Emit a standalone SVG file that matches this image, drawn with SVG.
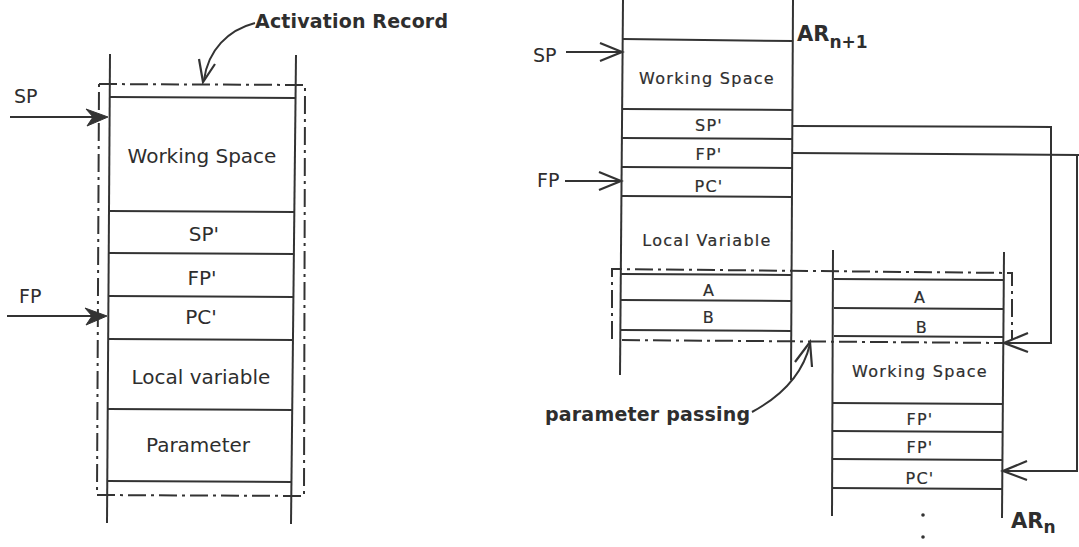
<svg xmlns="http://www.w3.org/2000/svg" width="1079" height="547" viewBox="0 0 1079 547">
<defs>
<style>
.ln{stroke:#333;stroke-width:2;fill:none}
.dd{stroke:#333;stroke-width:2;fill:none;stroke-dasharray:18 5 3 5}
.head{fill:#333;stroke:#333;stroke-width:1;stroke-linejoin:miter}
.vh{fill:none;stroke:#333;stroke-width:2.2}
.tL{font-family:"DejaVu Sans","Verdana",sans-serif;font-size:20px;fill:#2e2e2e;text-anchor:middle}
.tR{font-family:"DejaVu Sans","Verdana",sans-serif;font-size:16px;fill:#2e2e2e;text-anchor:middle;letter-spacing:1.3px;stroke:#2e2e2e;stroke-width:0.2}
.ptr{font-family:"DejaVu Sans","Verdana",sans-serif;font-size:19px;fill:#2e2e2e}
.bold{font-family:"DejaVu Sans","Verdana",sans-serif;font-weight:bold;fill:#2e2e2e}
</style>
</defs>
<rect width="1079" height="547" fill="#ffffff"/>

<!-- Left activation record -->
<g id="left-stack">
<line class="ln" x1="110" y1="54" x2="107" y2="523"/>
<line class="ln" x1="296" y1="55" x2="291" y2="524"/>
<line class="ln" x1="110" y1="97" x2="295" y2="98"/>
<line class="ln" x1="109" y1="211" x2="294" y2="212"/>
<line class="ln" x1="109" y1="253" x2="294" y2="254"/>
<line class="ln" x1="108" y1="296" x2="293" y2="297"/>
<line class="ln" x1="108" y1="339" x2="293" y2="340"/>
<line class="ln" x1="108" y1="409" x2="293" y2="410"/>
<line class="ln" x1="107" y1="481" x2="292" y2="482"/>
<path class="dd" d="M99,84 L305,85 L304,496 L97,495 Z"/>
<text class="tL" x="202" y="163">Working Space</text>
<text class="tL" x="204" y="241">SP'</text>
<text class="tL" x="202" y="285">FP'</text>
<text class="tL" x="201" y="324">PC'</text>
<text class="tL" x="201" y="384">Local variable</text>
<text class="tL" x="198" y="452">Parameter</text>
</g>

<g id="left-labels">
<text class="ptr" x="14" y="103">SP</text>
<text class="ptr" x="19" y="303">FP</text>
<text class="bold" x="255" y="28" font-size="19" textLength="193" lengthAdjust="spacing">Activation Record</text>
</g>

<!-- Right: AR n+1 -->
<g id="ar-n-plus-1">
<line class="ln" x1="623" y1="0" x2="620" y2="375"/>
<line class="ln" x1="793" y1="0" x2="791" y2="380"/>
<line class="ln" x1="623" y1="39" x2="793" y2="41"/>
<line class="ln" x1="623" y1="109" x2="793" y2="110"/>
<line class="ln" x1="622" y1="138" x2="792" y2="139"/>
<line class="ln" x1="622" y1="167" x2="792" y2="168"/>
<line class="ln" x1="622" y1="196" x2="792" y2="197"/>
<line class="ln" x1="621" y1="274" x2="791" y2="275"/>
<line class="ln" x1="621" y1="300" x2="791" y2="301"/>
<line class="ln" x1="621" y1="330" x2="791" y2="331"/>
<text class="tR" x="707" y="84">Working Space</text>
<text class="tR" x="709" y="131">SP'</text>
<text class="tR" x="709" y="160">FP'</text>
<text class="tR" x="709" y="192">PC'</text>
<text class="tR" x="707" y="246">Local Variable</text>
<text class="tR" x="709" y="296">A</text>
<text class="tR" x="709" y="323">B</text>
<text class="bold" x="797" y="41" font-size="21">AR<tspan font-size="17" dy="7">n+1</tspan></text>
</g>

<!-- Right: AR n -->
<g id="ar-n">
<line class="ln" x1="833" y1="250" x2="832" y2="516"/>
<line class="ln" x1="1004" y1="252" x2="1002" y2="518"/>
<line class="ln" x1="834" y1="279" x2="1003" y2="280"/>
<line class="ln" x1="834" y1="308" x2="1003" y2="309"/>
<line class="ln" x1="834" y1="336" x2="1003" y2="337"/>
<line class="ln" x1="833" y1="403" x2="1002" y2="404"/>
<line class="ln" x1="833" y1="431" x2="1002" y2="432"/>
<line class="ln" x1="833" y1="459" x2="1002" y2="460"/>
<line class="ln" x1="832" y1="488" x2="1002" y2="489"/>
<text class="tR" x="920" y="303">A</text>
<text class="tR" x="922" y="333">B</text>
<text class="tR" x="920" y="377">Working Space</text>
<text class="tR" x="920" y="425">FP'</text>
<text class="tR" x="920" y="453">FP'</text>
<text class="tR" x="920" y="484">PC'</text>
<circle cx="923" cy="515" r="1.8" fill="#333"/>
<circle cx="923" cy="537" r="1.8" fill="#333"/>
<text class="bold" x="1011" y="528" font-size="21">AR<tspan font-size="17" dy="5">n</tspan></text>
</g>

<g id="parameter-box">
<path class="dd" d="M612,339 L612,269 L1012,273 L1012,340"/>
<path class="dd" d="M622,340 L1004,343"/>
</g>

<g id="right-labels">
<text class="ptr" x="533" y="62">SP</text>
<text class="ptr" x="537" y="187">FP</text>
<text class="bold" x="545" y="421" font-size="19" textLength="205" lengthAdjust="spacing">parameter passing</text>
</g>

<!-- Connectors -->
<g id="connectors">
<line class="ln" x1="10" y1="117" x2="104" y2="117"/>
<path class="head" d="M108,117 L86,109 L93,117 L87,126 Z"/>
<line class="ln" x1="7" y1="316" x2="103" y2="316"/>
<path class="head" d="M107,316 L85,308 L92,316 L86,325 Z"/>
<path class="ln" d="M255,23 C228,30 208,50 204,80"/>
<path class="vh" d="M199,59 L203,82 L215,64"/>
<line class="ln" x1="566" y1="52" x2="621" y2="52"/>
<path class="vh" d="M600,43 L622,52 L600,61"/>
<line class="ln" x1="565" y1="181" x2="620" y2="181"/>
<path class="vh" d="M599,172 L621,181 L599,190"/>
<polyline class="ln" points="793,126 1051,127 1051,343 1006,343"/>
<path class="vh" d="M1028,333 L1004,343 L1028,352"/>
<polyline class="ln" points="793,153 1079,155"/>
<polyline class="ln" points="1077,155 1077,471 1006,471"/>
<path class="vh" d="M1027,461 L1003,471 L1027,480"/>
<path class="ln" d="M752,412 C778,398 802,378 810,344"/>
<path class="vh" d="M795,362 L810,342 L812,367"/>
</g>
</svg>
